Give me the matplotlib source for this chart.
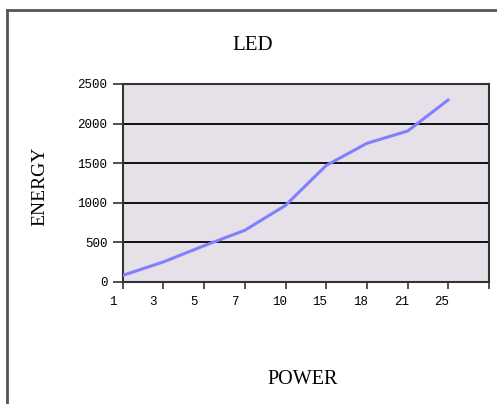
import matplotlib
matplotlib.use("Agg")
import matplotlib.pyplot as plt
from matplotlib.lines import Line2D

categories = ["1", "3", "5", "7", "10", "15", "18", "21", "25"]
energy = [80, 250, 455, 650, 965, 1470, 1750, 1905, 2300]
yticks = [0, 500, 1000, 1500, 2000, 2500]

W, H = 497, 404
fig = plt.figure(figsize=(W / 100, H / 100), dpi=100)
fig.patch.set_facecolor("white")

ax = fig.add_axes([122.7 / W, 1 - 281.7 / H, (489 - 122.7) / W, (281.7 - 84) / H])
ax.set_facecolor("#E6E1E8")

x = list(range(len(categories)))
ax.plot(x, energy, color="#8080FF", lw=2.2, solid_capstyle="round", zorder=3)

ax.set_yticks(yticks)
ax.set_yticklabels([str(v) for v in yticks], family="Liberation Mono", fontsize=9)
for v in yticks[1:]:
    ax.axhline(v, color="black", lw=1.3, zorder=1)

# tick marks at category boundaries, labels slightly left (Excel style)
ax.set_xticks(list(range(len(categories) + 1)))
ax.set_xticklabels([])
for xi, lab in zip(x, categories):
    ax.annotate(lab, xy=(xi, 0), xycoords=("data", "axes fraction"),
                xytext=(-10, -14.5), textcoords="offset points",
                ha="left", va="center", family="Liberation Mono", fontsize=9,
                annotation_clip=False)

ax.set_xlim(0, len(categories))
ax.set_ylim(0, 2500)

ax.tick_params(axis="x", direction="out", length=5, width=1.2, color="#333333")
ax.tick_params(axis="y", direction="out", length=7, width=1.2, color="#333333", pad=4)
for s in ax.spines.values():
    s.set_color("#333333")
    s.set_linewidth(1.5)

fig.text(253 / W, 1 - 45 / H, "LED", family="Liberation Serif", fontsize=15,
         ha="center", va="center")
fig.text(40 / W, 1 - 186 / H, "ENERGY", family="Liberation Serif", fontsize=14,
         ha="center", va="center", rotation=90)
fig.text(303 / W, 1 - 379 / H, "POWER", family="Liberation Serif", fontsize=14.5,
         ha="center", va="center")

# outer frame (left and top edges visible)
fig.add_artist(Line2D([7 / W, 7 / W], [0, 1 - 9.5 / H], transform=fig.transFigure,
                      color="#555555", lw=2))
fig.add_artist(Line2D([7 / W, 1], [1 - 9.5 / H, 1 - 9.5 / H], transform=fig.transFigure,
                      color="#555555", lw=2))

fig.savefig("out.png", dpi=100)
